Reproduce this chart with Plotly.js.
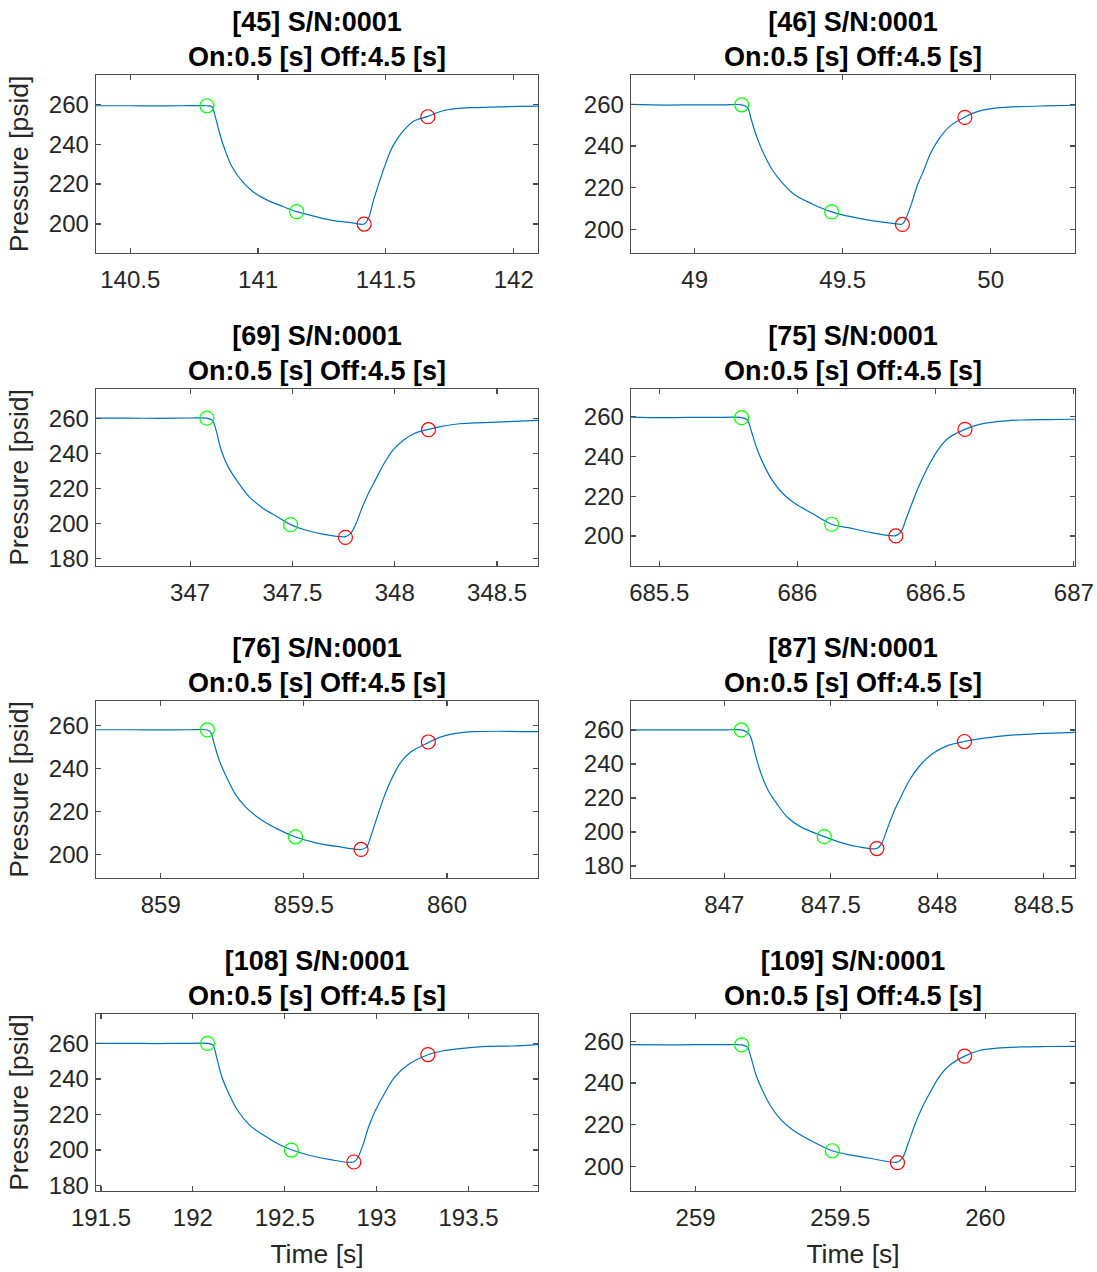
<!DOCTYPE html>
<html>
<head>
<meta charset="utf-8">
<script src="https://cdn.plot.ly/plotly-3.0.1.min.js"></script>
<style>html,body{margin:0;padding:0;background:#fff;}#chart{width:1097px;height:1272px;}</style>
</head>
<body>
<div id="chart"></div>
<script>
// ---- Data ----
const panelIds = ["45", "46", "69", "75", "76", "87", "108", "109"];
const serial = "S/N:0001";
const onOffText = "On:0.5 [s] Off:4.5 [s]";

const t45 = [140.366, 140.5, 140.6, 140.7, 140.80, 140.82, 140.83, 140.849, 140.870, 140.897, 140.938, 140.979, 141.034, 141.089, 141.151, 141.226, 141.295, 141.363, 141.415, 141.432, 141.452, 141.473, 141.5, 141.527, 141.568, 141.610, 141.664, 141.719, 141.774, 141.842, 141.911, 141.979, 142.095];
const p45 = [259.2, 259.2, 259.1, 259.2, 259.2, 258.7, 255.0, 245.7, 237.3, 228.9, 221.3, 216.3, 212.1, 209.2, 206.2, 203.7, 201.7, 200.7, 200.0, 202.9, 212.1, 220.5, 230.6, 239.0, 246.6, 251.6, 253.9, 256.6, 257.8, 258.3, 258.5, 258.8, 259.0];
const onT45 = [140.80, 141.151], onP45 = [259.2, 206.2];
const offT45 = [141.415, 141.664], offP45 = [200.0, 253.7];

const t46 = [48.785, 48.9, 49.0, 49.1, 49.159, 49.179, 49.191, 49.209, 49.232, 49.262, 49.297, 49.338, 49.397, 49.463, 49.527, 49.598, 49.669, 49.702, 49.716, 49.733, 49.751, 49.775, 49.798, 49.828, 49.863, 49.913, 49.963, 50.022, 50.105, 50.188, 50.285];
const p46 = [259.9, 259.6, 259.7, 259.7, 259.7, 258.4, 252.8, 244.7, 236.7, 228.6, 222.2, 216.6, 212.2, 208.4, 206.1, 204.2, 202.9, 202.6, 206.1, 212.5, 220.6, 228.6, 236.7, 243.9, 249.5, 253.9, 256.8, 258.2, 258.9, 259.2, 259.5];
const onT46 = [49.159, 49.463], onP46 = [259.7, 208.4];
const offT46 = [49.702, 49.913], offP46 = [202.4, 253.7];

const t69 = [346.54, 346.7, 346.85, 347.0, 347.082, 347.109, 347.127, 347.152, 347.186, 347.238, 347.289, 347.358, 347.426, 347.491, 347.563, 347.648, 347.759, 347.785, 347.811, 347.836, 347.871, 347.905, 347.948, 347.990, 348.042, 348.093, 348.165, 348.230, 348.315, 348.435, 348.555, 348.700];
const p69 = [260.3, 260.3, 260.2, 260.4, 260.3, 259.0, 253.3, 241.9, 232.4, 222.9, 215.2, 208.6, 203.8, 199.3, 196.2, 193.9, 192.4, 194.3, 200.0, 207.6, 217.1, 224.8, 234.3, 241.9, 247.6, 251.4, 253.9, 255.6, 257.1, 257.7, 258.3, 259.0];
const onT69 = [347.082, 347.491], onP69 = [260.3, 199.3];
const offT69 = [347.759, 348.165], offP69 = [192.0, 253.7];

const t75 = [685.398, 685.5, 685.6, 685.7, 685.798, 685.819, 685.832, 685.851, 685.876, 685.908, 685.946, 685.990, 686.053, 686.124, 686.192, 686.268, 686.356, 686.375, 686.394, 686.419, 686.444, 686.476, 686.508, 686.545, 686.606, 686.659, 686.722, 686.811, 686.899, 687.004];
const p75 = [259.8, 259.5, 259.6, 259.6, 259.5, 258.3, 253.3, 244.9, 236.5, 228.2, 221.5, 216.4, 211.4, 205.9, 203.9, 201.7, 200.2, 202.2, 208.9, 218.1, 226.5, 235.7, 243.2, 249.1, 253.6, 256.1, 257.5, 258.3, 258.5, 258.7];
const onT75 = [685.798, 686.124], onP75 = [259.5, 205.9];
const offT75 = [686.356, 686.606], offP75 = [200.0, 253.6];

const t76 = [858.774, 858.9, 859.0, 859.1, 859.163, 859.175, 859.187, 859.205, 859.230, 859.260, 859.297, 859.346, 859.407, 859.471, 859.542, 859.615, 859.700, 859.719, 859.737, 859.756, 859.780, 859.804, 859.835, 859.872, 859.935, 859.982, 860.031, 860.092, 860.177, 860.318];
const p76 = [258.1, 258.1, 258.0, 258.1, 258.0, 256.9, 251.5, 243.7, 236.0, 228.2, 222.0, 216.6, 211.9, 208.1, 205.4, 203.7, 202.3, 203.4, 209.6, 217.4, 226.7, 234.4, 242.2, 247.6, 252.1, 254.9, 256.4, 257.2, 257.4, 257.2];
const onT76 = [859.163, 859.471], onP76 = [258.0, 208.2];
const offT76 = [859.700, 859.935], offP76 = [202.3, 252.4];

const t87 = [846.562, 846.6, 846.8, 847.0, 847.080, 847.108, 847.124, 847.149, 847.173, 847.206, 847.247, 847.296, 847.361, 847.469, 847.541, 847.623, 847.716, 847.738, 847.762, 847.795, 847.828, 847.868, 847.918, 847.975, 848.048, 848.127, 848.196, 848.277, 848.392, 848.506, 848.645];
const p87 = [259.6, 260.0, 260.0, 260.0, 260.0, 258.6, 255.7, 244.0, 234.2, 224.4, 216.6, 208.7, 202.9, 197.3, 194.1, 191.5, 190.3, 193.1, 200.9, 211.7, 220.5, 230.3, 239.1, 245.9, 250.8, 253.2, 254.7, 256.1, 257.3, 258.0, 258.6];
const onT87 = [847.080, 847.469], onP87 = [260.0, 197.3];
const offT87 = [847.716, 848.127], offP87 = [190.3, 253.2];

const t108 = [191.473, 191.6, 191.8, 192.0, 192.080, 192.110, 192.129, 192.158, 192.196, 192.243, 192.310, 192.386, 192.462, 192.536, 192.633, 192.747, 192.876, 192.899, 192.928, 192.956, 192.994, 193.042, 193.099, 193.165, 193.279, 193.356, 193.470, 193.603, 193.736, 193.878];
const p108 = [260.0, 260.0, 259.9, 260.0, 260.0, 258.9, 252.3, 241.1, 231.7, 222.4, 213.9, 208.3, 203.6, 200.2, 197.1, 194.6, 193.3, 196.1, 203.6, 213.0, 222.4, 231.7, 241.1, 247.6, 253.6, 255.7, 257.2, 258.3, 258.5, 259.3];
const onT108 = [192.080, 192.536], onP108 = [260.0, 200.0];
const offT108 = [192.876, 193.279], offP108 = [193.3, 253.7];

const t109 = [258.777, 258.9, 259.0, 259.1, 259.159, 259.179, 259.191, 259.209, 259.233, 259.264, 259.300, 259.342, 259.402, 259.472, 259.534, 259.606, 259.697, 259.715, 259.733, 259.757, 259.781, 259.811, 259.841, 259.877, 259.929, 259.980, 260.040, 260.124, 260.208, 260.310];
const p109 = [258.4, 258.3, 258.4, 258.4, 258.3, 257.2, 252.4, 243.7, 235.8, 227.9, 221.6, 216.9, 212.1, 207.5, 205.5, 203.8, 202.0, 204.2, 210.6, 220.0, 227.9, 235.8, 242.9, 248.5, 252.9, 255.6, 256.7, 257.3, 257.5, 257.6];
const onT109 = [259.159, 259.472], onP109 = [258.3, 207.5];
const offT109 = [259.697, 259.929], offP109 = [201.8, 252.9];

const xTitle = "Time [s]";
const yTitle = "Pressure [psid]";

// ---- Build figure ----
const series = [
  [t45, p45, onT45, onP45, offT45, offP45],
  [t46, p46, onT46, onP46, offT46, offP46],
  [t69, p69, onT69, onP69, offT69, offP69],
  [t75, p75, onT75, onP75, offT75, offP75],
  [t76, p76, onT76, onP76, offT76, offP76],
  [t87, p87, onT87, onP87, offT87, offP87],
  [t108, p108, onT108, onP108, offT108, offP108],
  [t109, p109, onT109, onP109, offT109, offP109]
];

const xRanges = [[140.366, 142.095], [48.785, 50.285], [346.54, 348.70], [685.398, 687.004],
                 [858.774, 860.318], [846.562, 848.646], [191.473, 193.878], [258.777, 260.31]];
const yRanges = [[185.5, 274.6], [188.7, 274.0], [175.6, 277.0], [184.9, 273.9],
                 [189.0, 271.5], [173.0, 277.0], [177.0, 276.5], [188.2, 273.1]];

const W = 1097, H = 1272;
const colPx = [[96, 538], [631, 1075]];
const rowPx = [[75, 253], [389, 566], [701, 878], [1014, 1191]];

const FONT = "Liberation Sans, Arial, Helvetica, sans-serif";
const AX = "#262626";
const traces = [];
const layout = {
  width: W, height: H,
  margin: {l: 0, r: 0, t: 0, b: 0},
  paper_bgcolor: "#ffffff", plot_bgcolor: "#ffffff",
  showlegend: false,
  font: {family: FONT, color: AX},
  annotations: []
};

series.forEach((s, i) => {
  const k = i + 1;
  const xa = k === 1 ? "x" : "x" + k;
  const ya = k === 1 ? "y" : "y" + k;
  const col = i % 2, row = Math.floor(i / 2);
  traces.push({x: s[0], y: s[1], xaxis: xa, yaxis: ya, type: "scatter", mode: "lines",
    line: {color: "#0072BD", width: 1.2, shape: "spline", smoothing: 0.9}, hoverinfo: "x+y"});
  traces.push({x: s[2], y: s[3], xaxis: xa, yaxis: ya, type: "scatter", mode: "markers",
    marker: {symbol: "circle-open", size: 14, color: "#00ff00", line: {width: 1.2}}});
  traces.push({x: s[4], y: s[5], xaxis: xa, yaxis: ya, type: "scatter", mode: "markers",
    marker: {symbol: "circle-open", size: 14, color: "#ff0000", line: {width: 1.2}}});

  const common = {
    showgrid: false, zeroline: false, showline: true, mirror: "ticks",
    linecolor: "#4d4d4d", linewidth: 1.3, ticks: "inside", ticklen: 5, tickwidth: 1.2,
    tickcolor: "#4d4d4d", tickfont: {family: FONT, size: 24, color: AX}
  };
  layout["xaxis" + (k === 1 ? "" : k)] = Object.assign({}, common, {
    domain: [colPx[col][0] / W, colPx[col][1] / W],
    anchor: ya, range: xRanges[i], dtick: 0.5, tick0: 0, ticklabelstandoff: 5,
    title: row === 3 ? {text: xTitle, font: {family: FONT, size: 26.5, color: AX}, standoff: 14} : {text: ""}
  });
  layout["yaxis" + (k === 1 ? "" : k)] = Object.assign({}, common, {
    domain: [1 - rowPx[row][1] / H, 1 - rowPx[row][0] / H],
    anchor: xa, range: yRanges[i], dtick: 20, tick0: 0, ticklabelstandoff: 1,
    title: col === 0 ? {text: yTitle, font: {family: FONT, size: 26.5, color: AX}, standoff: 12} : {text: ""}
  });
  layout.annotations.push({
    xref: "paper", yref: "paper",
    x: (colPx[col][0] + colPx[col][1]) / 2 / W,
    y: 1 - rowPx[row][0] / H,
    xanchor: "center", yanchor: "bottom", yshift: 1, showarrow: false,
    text: "<b>[" + panelIds[i] + "] " + serial + "</b><br><b>" + onOffText + "</b>",
    font: {family: FONT, size: 27, color: "#000000"}
  });
});

Plotly.newPlot("chart", traces, layout, {displayModeBar: false, staticPlot: true});
</script>
</body>
</html>
